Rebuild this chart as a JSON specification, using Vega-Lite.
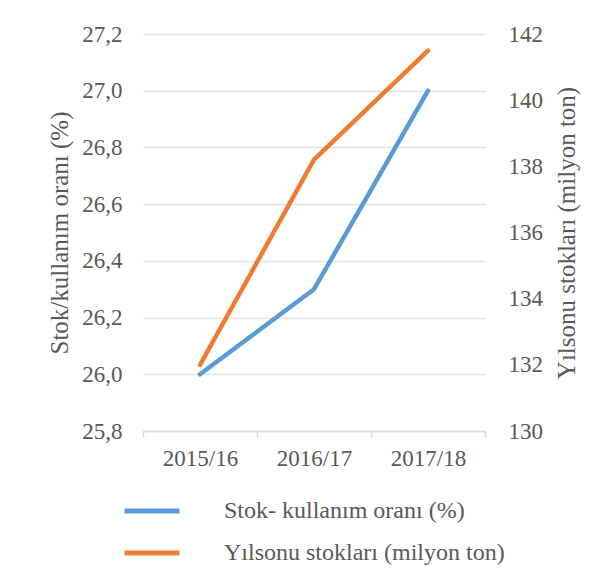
{
  "$schema": "https://vega.github.io/schema/vega-lite/v6.json",
  "width": 342,
  "height": 397,
  "autosize": "none",
  "padding": {"left": 143, "top": 34, "right": 122, "bottom": 153},
  "background": "white",
  "config": {
    "view": {"stroke": null},
    "font": "Liberation Serif",
    "axis": {"labelFont": "Liberation Serif", "titleFont": "Liberation Serif"},
    "legend": {"labelFont": "Liberation Serif", "titleFont": "Liberation Serif"},
    "locale": {"number": {"decimal": ",", "thousands": ".", "grouping": [3], "currency": ["", " TL"]}}
  },
  "data": {
    "values": [
      {"year": "2015/16", "series": "Stok- kullanım oranı (%)", "value": 26.0},
      {"year": "2016/17", "series": "Stok- kullanım oranı (%)", "value": 26.3},
      {"year": "2017/18", "series": "Stok- kullanım oranı (%)", "value": 27.0},
      {"year": "2015/16", "series": "Yılsonu stokları (milyon ton)", "value": 132.0},
      {"year": "2016/17", "series": "Yılsonu stokları (milyon ton)", "value": 138.2},
      {"year": "2017/18", "series": "Yılsonu stokları (milyon ton)", "value": 141.5}
    ]
  },
  "encoding": {
    "x": {
      "field": "year",
      "type": "ordinal",
      "bandPosition": 0.5,
      "scale": {"type": "band", "paddingInner": 0, "paddingOuter": 0},
      "axis": {
        "title": null,
        "labelAngle": 0,
        "labelFontSize": 23,
        "labelColor": "#595959",
        "labelPadding": 10,
        "domainColor": "#d9d9d9",
        "domainWidth": 1.5,
        "tickColor": "#d9d9d9",
        "tickWidth": 1.5,
        "tickSize": 6,
        "tickBand": "extent",
        "grid": false
      }
    },
    "color": {
      "field": "series",
      "type": "nominal",
      "scale": {
        "domain": ["Stok- kullanım oranı (%)", "Yılsonu stokları (milyon ton)"],
        "range": ["#5B9BD5", "#ED7D31"]
      },
      "legend": {
        "orient": "none",
        "legendX": -21,
        "legendY": 447,
        "direction": "vertical",
        "title": null,
        "symbolType": "stroke",
        "symbolSize": 3025,
        "symbolStrokeWidth": 5,
        "labelOffset": 42,
        "labelFontSize": 24,
        "labelLimit": 500,
        "labelColor": "#595959",
        "rowPadding": -14
      }
    }
  },
  "layer": [
    {
      "transform": [{"filter": "datum.series === 'Stok- kullanım oranı (%)'"}],
      "mark": {"type": "line", "strokeWidth": 4.5, "strokeCap": "round", "strokeJoin": "round"},
      "encoding": {
        "y": {
          "field": "value",
          "type": "quantitative",
          "scale": {"domain": [25.8, 27.2], "nice": false, "zero": false},
          "axis": {
            "orient": "left",
            "title": "Stok/kullanım oranı (%)",
            "values": [25.8, 26.0, 26.2, 26.4, 26.6, 26.8, 27.0, 27.2],
            "format": ".1f",
            "grid": true,
            "gridColor": "#e3e3e3",
            "gridWidth": 1.5,
            "domain": false,
            "ticks": false,
            "labelFontSize": 23,
            "labelColor": "#595959",
            "labelPadding": 21,
            "titleFontSize": 25,
            "titleFontWeight": "normal",
            "titleColor": "#595959",
            "titlePadding": 9
          }
        }
      }
    },
    {
      "transform": [{"filter": "datum.series === 'Yılsonu stokları (milyon ton)'"}],
      "mark": {"type": "line", "strokeWidth": 4.5, "strokeCap": "round", "strokeJoin": "round"},
      "encoding": {
        "y": {
          "field": "value",
          "type": "quantitative",
          "scale": {"domain": [130, 142], "nice": false, "zero": false},
          "axis": {
            "orient": "right",
            "title": "Yılsonu stokları (milyon ton)",
            "values": [130, 132, 134, 136, 138, 140, 142],
            "format": "d",
            "grid": false,
            "domain": false,
            "ticks": false,
            "labelFontSize": 23,
            "labelColor": "#595959",
            "labelPadding": 23,
            "titleFontSize": 25,
            "titleFontWeight": "normal",
            "titleColor": "#595959",
            "titleAngle": 270,
            "titleBaseline": "top",
            "titlePadding": 12
          }
        }
      }
    }
  ],
  "resolve": {"scale": {"y": "independent"}}
}
